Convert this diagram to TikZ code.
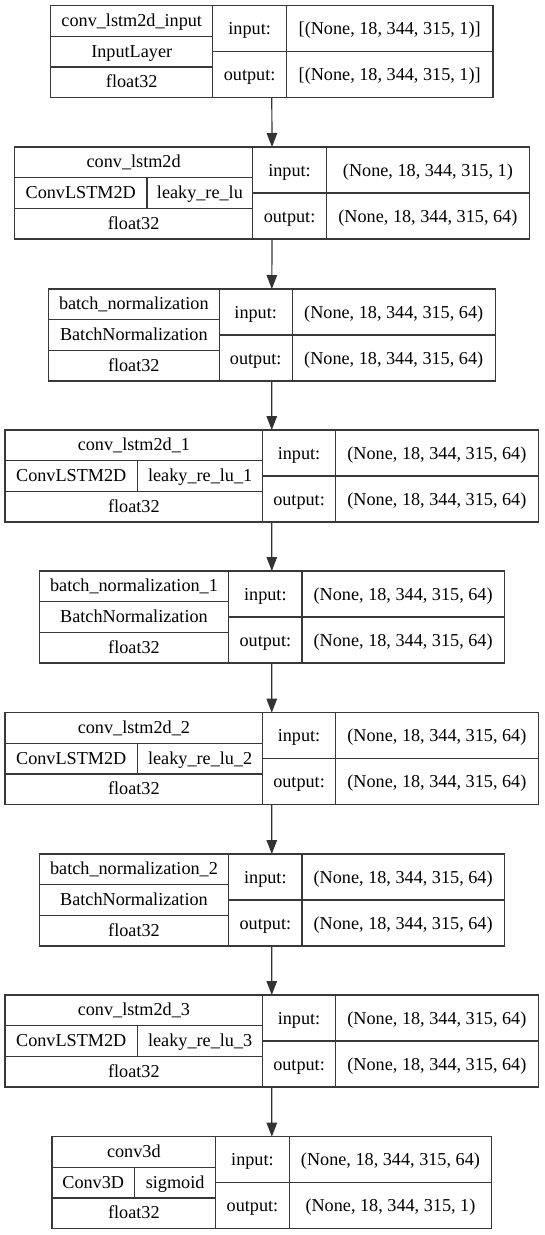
\documentclass[tikz,border=0pt]{standalone}
\usepackage{fontspec}
\setmainfont{Liberation Serif}
\newfontfamily\labelfont{Liberation Serif}
\usetikzlibrary{calc,positioning,arrows.meta}

\tikzset{
  frame/.style={draw=black!78,line width=1.15pt},
  cell/.style={inner sep=0pt,text height=15pt,text depth=4pt,font=\labelfont\fontsize{18.2}{22}\selectfont},
  link/.style={draw=black!80,line width=1.2pt,-{Triangle[length=14pt,width=10.5pt]}}
}

% #1 name, #2 top, #3 left, #4 split, #5 shape column, #6 right, #7 title, #8 input, #9 output
\newcommand{\layerbox}[9]{%
  \def\ltop{#2}\def\lleft{#3}\def\lsplit{#4}%
  \node [frame,rectangle,outer sep=0pt,minimum width={(#6-#3)*1pt},minimum height=92pt,anchor=north west] at(#3,#2) (#1) {};
  \draw [frame] (#4,#2) -- (#4,#2+92) (#5,#2) -- (#5,#2+92)
    (#3,#2+30.7) -- (#4,#2+30.7) (#3,#2+61.3) -- (#4,#2+61.3)
    (#4,#2+46) -- (#6,#2+46);
  \node [cell] at({(#3+#4)/2},#2+15.35) (#1-name) {#7};
  \node [cell] at({(#3+#4)/2},#2+76.65) (#1-dtype) {float32};
  \node [cell] at({(#4+#5)/2},#2+23.5) (#1-inlabel) {input:};
  \node [cell] at({(#4+#5)/2},#2+69.5) (#1-outlabel) {output:};
  \node [cell] at({(#5+#6)/2},#2+23.5) (#1-in) {#8};
  \node [cell] at({(#5+#6)/2},#2+69.5) (#1-out) {#9};
}
% middle row, one cell
\newcommand{\midsingle}[2]{%
  \node [cell] at({(\lleft+\lsplit)/2},\ltop+46) (#1-kind) {#2};
}
% middle row, two cells
\newcommand{\midsplit}[4]{%
  \draw [frame] (#2,\ltop+30.7) -- (#2,\ltop+61.3);
  \node [cell] at({(\lleft+#2)/2},\ltop+46) (#1-kind) {#3};
  \node [cell] at({(#2+\lsplit)/2},\ltop+46) (#1-act) {#4};
}

\begin{document}
\begin{tikzpicture}[x=1pt,y=-1pt]

  \useasboundingbox (0,0) rectangle (544,1235);

  \def\shapeA{(None, 18, 344, 315, 1)}
  \def\shapeB{(None, 18, 344, 315, 64)}

  \layerbox{input}{5.7}{50.6}{212.9}{286.4}{493}{conv\_lstm2d\_input}{[\shapeA]}{[\shapeA]}
  \midsingle{input}{InputLayer}

  \layerbox{lstm0}{147}{14.5}{252.8}{326.3}{529.5}{conv\_lstm2d}{\shapeA}{\shapeB}
  \midsplit{lstm0}{147}{ConvLSTM2D}{leaky\_re\_lu}

  \layerbox{bn0}{289}{48.5}{219.1}{292.3}{495.1}{batch\_normalization}{\shapeB}{\shapeB}
  \midsingle{bn0}{BatchNormalization}

  \layerbox{lstm1}{430}{5}{262.8}{335.3}{538.5}{conv\_lstm2d\_1}{\shapeB}{\shapeB}
  \midsplit{lstm1}{137.5}{ConvLSTM2D}{leaky\_re\_lu\_1}

  \layerbox{bn1}{571}{39.3}{228.7}{302}{504.3}{batch\_normalization\_1}{\shapeB}{\shapeB}
  \midsingle{bn1}{BatchNormalization}

  \layerbox{lstm2}{712.7}{5}{262.8}{335.3}{538.5}{conv\_lstm2d\_2}{\shapeB}{\shapeB}
  \midsplit{lstm2}{137.5}{ConvLSTM2D}{leaky\_re\_lu\_2}

  \layerbox{bn2}{854}{39.3}{228.7}{302}{504.3}{batch\_normalization\_2}{\shapeB}{\shapeB}
  \midsingle{bn2}{BatchNormalization}

  \layerbox{lstm3}{995}{5}{262.8}{335.3}{538.5}{conv\_lstm2d\_3}{\shapeB}{\shapeB}
  \midsplit{lstm3}{137.5}{ConvLSTM2D}{leaky\_re\_lu\_3}

  \layerbox{out}{1136.7}{52}{215.7}{289.2}{491.7}{conv3d}{\shapeB}{\shapeA}
  \midsplit{out}{134.5}{Conv3D}{sigmoid}

  % connections
  \foreach \a/\b in {input/lstm0,lstm0/bn0,bn0/lstm1,lstm1/bn1,bn1/lstm2,lstm2/bn2,bn2/lstm3,lstm3/out}{
    \draw [link] (\a.south) -- (\b.north);
  }

\end{tikzpicture}
\end{document}
